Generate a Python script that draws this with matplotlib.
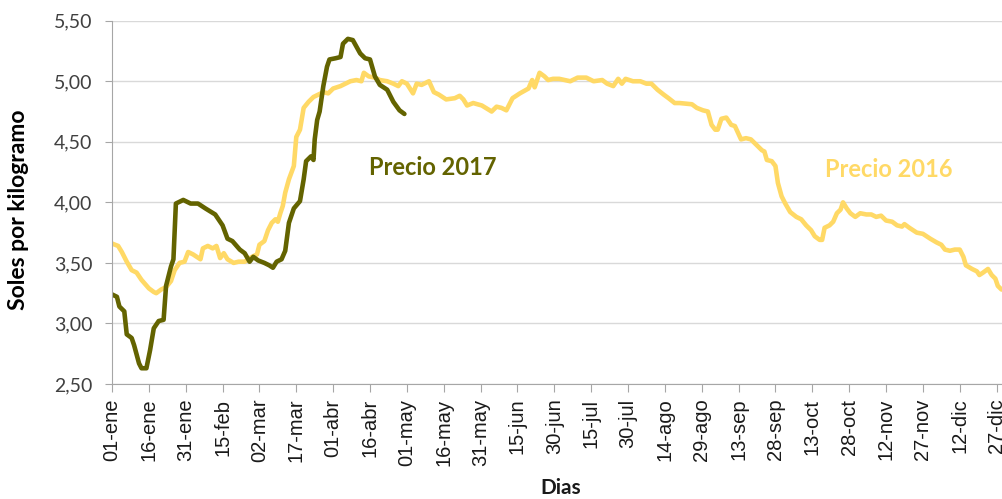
import matplotlib
matplotlib.use('Agg')
from matplotlib import pyplot as plt
from matplotlib.ticker import FixedLocator, FuncFormatter

# day index (0 = 01-ene) and price
days_2016 = [0, 2.5, 4, 6, 8, 10, 12, 15, 17, 18,
             20, 22, 24, 25.5, 27.5, 29.5, 31, 33, 36, 37,
             39, 41, 42.5, 44, 45.5, 47, 49.5, 51.5, 54, 57,
             59, 60, 62, 63.5, 65, 66.5, 67.5, 68.5, 69.5, 70.5,
             72, 74, 75, 76.5, 78, 80, 82, 84, 86, 88,
             90, 93, 95, 97, 99.5, 101.5, 102.5, 104.5, 107, 109,
             112, 114.5, 116.5, 118, 120, 122.5, 124, 126, 129, 131,
             133, 136, 139.5, 141.5, 143, 144.5, 147, 150.5, 154.5, 156.5,
             158.5, 160.5, 163, 166, 169.5, 171, 172, 174, 176, 177.5,
             179.5, 182, 186.5, 189.5, 193, 196, 199.5, 201.5, 204, 206,
             207.5, 209, 212, 215, 217.5, 219.5, 222, 224.5, 226.5, 229,
             231, 236, 238, 240.5, 242.5, 244, 245.5, 246.5, 248, 250,
             252, 253.5, 256, 258, 260, 262.5, 264.5, 265.5, 266.5, 268.5,
             270, 271, 272.5, 274, 276, 278.5, 280.5, 282.5, 284.5, 286,
             288, 289, 290, 292, 293.5, 295, 296.5, 297.5, 299, 300.5,
             302.5, 304.5, 307, 309, 311, 313, 315, 317.5, 319.5, 321.5,
             322.5, 324.5, 327.5, 330, 333, 335.5, 337.5, 339, 341, 343,
             345, 346.5, 347.5, 350, 352, 353, 354.5, 356.5, 358, 359.5,
             360.5, 362]
precio_2016 = [3.66, 3.64, 3.59, 3.51, 3.44, 3.42, 3.36, 3.29, 3.26, 3.25,
               3.28, 3.30, 3.35, 3.44, 3.50, 3.51, 3.59, 3.57, 3.53, 3.62,
               3.64, 3.62, 3.64, 3.54, 3.58, 3.53, 3.50, 3.51, 3.51, 3.55,
               3.57, 3.65, 3.68, 3.77, 3.83, 3.86, 3.84, 3.91, 3.97, 4.08,
               4.19, 4.30, 4.54, 4.60, 4.78, 4.83, 4.87, 4.89, 4.91, 4.90,
               4.94, 4.96, 4.98, 5.00, 5.01, 5.00, 5.07, 5.04, 5.03, 5.01,
               5.00, 4.98, 4.96, 5.00, 4.98, 4.90, 4.98, 4.97, 5.00, 4.91,
               4.89, 4.85, 4.86, 4.88, 4.85, 4.80, 4.82, 4.80, 4.75, 4.79,
               4.78, 4.76, 4.86, 4.90, 4.94, 5.01, 4.95, 5.07, 5.04, 5.01,
               5.02, 5.02, 5.00, 5.03, 5.03, 5.00, 5.01, 4.98, 4.96, 5.02,
               4.98, 5.02, 5.00, 5.00, 4.98, 4.98, 4.93, 4.89, 4.86, 4.82,
               4.82, 4.81, 4.78, 4.76, 4.75, 4.64, 4.60, 4.60, 4.69, 4.70,
               4.64, 4.63, 4.52, 4.53, 4.52, 4.47, 4.43, 4.42, 4.35, 4.34,
               4.30, 4.16, 4.05, 3.99, 3.92, 3.88, 3.86, 3.81, 3.77, 3.72,
               3.69, 3.69, 3.79, 3.81, 3.84, 3.91, 3.94, 4.00, 3.95, 3.91,
               3.88, 3.91, 3.90, 3.90, 3.88, 3.89, 3.85, 3.84, 3.81, 3.80,
               3.82, 3.79, 3.75, 3.74, 3.70, 3.67, 3.65, 3.61, 3.60, 3.61,
               3.61, 3.55, 3.48, 3.45, 3.43, 3.40, 3.42, 3.45, 3.40, 3.37,
               3.31, 3.28]

days_2017 = [0, 2, 3, 5, 6, 8, 9, 11, 12, 14,
             15.5, 17, 19, 21, 22, 24, 25, 26, 29, 32,
             35, 38, 42, 45, 47, 49, 52, 54, 56, 57.5,
             59.5, 62, 64, 65.5, 67, 69, 70.5, 72, 74, 76.5,
             78, 79, 81, 82, 82.5, 83.5, 84.5, 86, 87.5, 88.5,
             91, 93, 94, 96, 98, 101, 103, 105, 107, 109,
             112, 114.5, 117, 119]
precio_2017 = [3.24, 3.22, 3.14, 3.10, 2.91, 2.88, 2.82, 2.67, 2.63, 2.63,
               2.78, 2.96, 3.02, 3.03, 3.31, 3.47, 3.53, 3.99, 4.02, 3.99,
               3.99, 3.95, 3.90, 3.81, 3.70, 3.68, 3.61, 3.58, 3.51, 3.55,
               3.52, 3.50, 3.48, 3.46, 3.51, 3.53, 3.60, 3.83, 3.95, 4.01,
               4.19, 4.34, 4.38, 4.35, 4.52, 4.68, 4.75, 4.96, 5.12, 5.18,
               5.19, 5.20, 5.31, 5.35, 5.34, 5.23, 5.19, 5.18, 5.04, 4.97,
               4.93, 4.83, 4.76, 4.73]

tick_days = list(range(0, 361, 15))
tick_labels = ['01-ene', '16-ene', '31-ene', '15-feb', '02-mar', '17-mar',
               '01-abr', '16-abr', '01-may', '16-may', '31-may', '15-jun',
               '30-jun', '15-jul', '30-jul', '14-ago', '29-ago', '13-sep',
               '28-sep', '13-oct', '28-oct', '12-nov', '27-nov', '12-dic',
               '27-dic']
y_ticks = [2.5, 3.0, 3.5, 4.0, 4.5, 5.0, 5.5]

col_2016 = '#FFD966'
col_2017 = '#636300'

fig = plt.figure(figsize=(10.02, 4.99), dpi=100)
ax = fig.add_axes([112 / 1002, 1 - 384 / 499, 890 / 1002, 363.3 / 499])

ax.plot(days_2016, precio_2016, color=col_2016, lw=3.3,
        solid_joinstyle='round', solid_capstyle='round')
ax.plot(days_2017, precio_2017, color=col_2017, lw=3.3,
        solid_joinstyle='round', solid_capstyle='round')

ax.set_xlim(0, 362.2)
ax.set_ylim(2.5, 5.5)

ax.yaxis.set_major_locator(FixedLocator(y_ticks))
ax.yaxis.set_major_formatter(FuncFormatter(lambda v, p: f'{v:.2f}'.replace('.', ',')))
ax.set_xticks(tick_days)
ax.set_xticklabels(tick_labels, rotation=90, family='Liberation Sans',
                   fontsize=14.5, color='#1a1a1a')
for lab in ax.get_yticklabels():
    lab.set_family('Lato')
    lab.set_fontsize(14)
    lab.set_color('#404040')

ax.grid(axis='y', color='#D9D9D9', lw=1)
ax.set_axisbelow(True)
for s in ['top', 'right']:
    ax.spines[s].set_visible(False)
ax.spines['left'].set_color('#A6A6A6')
ax.spines['bottom'].set_color('#A6A6A6')
ax.tick_params(axis='x', length=5.5, color='#A6A6A6', pad=5)
ax.tick_params(axis='y', length=5, color='#A6A6A6', pad=9)

ax.set_ylabel('Soles por kilogramo', family='Lato', fontweight='bold',
              fontsize=16.5, color='black')
ax.yaxis.set_label_coords(-0.093, 0.479)
ax.set_xlabel('Dias', family='Lato', fontweight='bold', fontsize=15,
              color='#1a1a1a')
ax.xaxis.set_label_coords(0.504, -0.259)

ax.text(130.5, 4.285, 'Precio 2017', color=col_2017, family='Lato',
        fontweight='bold', fontsize=17, ha='center', va='center')
ax.text(316.2, 4.27, 'Precio 2016', color=col_2016, family='Lato',
        fontweight='bold', fontsize=17, ha='center', va='center')

fig.savefig('out.png', dpi=100)
